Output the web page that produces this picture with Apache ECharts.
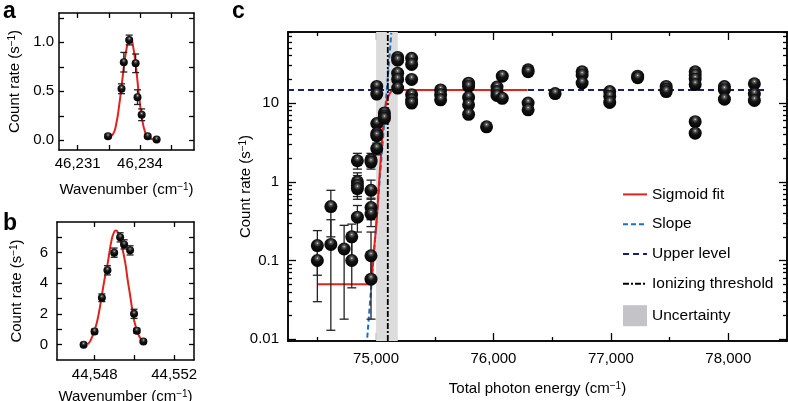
<!DOCTYPE html>
<html><head><meta charset="utf-8">
<script src="https://cdn.jsdelivr.net/npm/echarts@6/dist/echarts.min.js"></script>
<style>html,body{margin:0;padding:0;background:#fff}#c{width:788px;height:401px}</style>
</head><body><div id="c"></div>
<script>
const FONT = '"Liberation Sans", Arial, Helvetica, sans-serif';

// ---------- Panel a ----------
// [x, y, err]
const aPoints = [[46232.46,0.04,0.02],[46233.11,0.526,0.05],[46233.22,0.797,0.1],[46233.48,1.024,0.05],
  [46233.79,0.786,0.095],[46233.88,0.44,0.075],[46234.08,0.26,0.06],[46234.37,0.04,0.015],[46234.80,0.007,0.01]];
const aFit = [[46232.5,0.03],[46232.7,0.06],[46232.85,0.16],[46233.0,0.36],[46233.15,0.62],[46233.3,0.87],
  [46233.45,1.02],[46233.55,1.04],[46233.65,0.98],[46233.8,0.76],[46233.95,0.46],[46234.1,0.22],
  [46234.25,0.08],[46234.4,0.03],[46234.6,0.01],[46234.8,0.005]];
const aXTicks = [46231, 46232.5, 46234, 46235.5];
const aXLabels = [46231, 46234];
const aYTicks = [0, 0.25, 0.5, 0.75, 1, 1.25];
const aYLabels = [0, 0.5, 1];

// ---------- Panel b ----------
const bPoints = [[44547.44,0.0,0.1],[44547.99,0.86,0.15],[44548.36,3.06,0.25],[44548.64,4.85,0.3],
  [44548.98,6.0,0.3],[44549.28,7.0,0.3],[44549.48,6.54,0.3],[44549.78,6.15,0.3],[44549.98,2.01,0.3],
  [44550.12,0.91,0.15],[44550.45,0.21,0.1]];
const bFit = [[44547.64,0.02],[44547.8,0.3],[44548.03,1.08],[44548.2,2.0],[44548.36,3.24],[44548.5,4.3],
  [44548.64,5.2],[44548.86,6.9],[44549.0,7.4],[44549.08,7.45],[44549.2,7.2],[44549.35,6.5],[44549.53,5.4],
  [44549.65,4.3],[44549.78,3.24],[44549.9,2.2],[44550.0,1.5],[44550.15,0.85],[44550.29,0.43],[44550.45,0.2]];
const bXTicks = [44548, 44550, 44552];
const bXLabels = [44548, 44552];
const bYTicks = [0, 1, 2, 3, 4, 5, 6, 7];
const bYLabels = [0, 2, 4, 6];

// ---------- Panel c ----------
// [x, y, lo, hi] (lo/hi null = error hidden by marker)
const cPoints = [
 [74500,0.155,0.065,0.24],[74500,0.10,0.03,0.16],
 [74615,0.485,0.2,0.78],[74615,0.16,0.013,0.33],
 [74728,0.14,0.018,0.28],
 [74793,0.2,0.1,0.29],[74793,0.1,0.045,0.2],
 [74841,1.85,1.45,2.3],[74841,1.0,0.72,1.3],[74841,0.9,0.65,1.2],[74841,0.82,0.6,1.1],[74841,0.355,0.23,0.5],
 [74957,1.9,1.55,2.3],[74957,1.78,1.45,2.15],[74957,0.78,0.6,1.05],[74957,0.47,0.33,0.62],[74957,0.39,0.27,0.5],[74957,0.115,0.06,0.23],[74957,0.058,0.018,0.12],
 [75006,16.3,15,17.6],[75006,13,12,14],[75006,5.5,4.9,6.1],[75006,4.1,3.6,4.6],[75006,3.85,3.4,4.3],[75006,2.65,2.2,3.1],
 [75071,7.5,6.9,8.1],[75071,6.8,6.2,7.4],[75071,6.4,5.8,7.0],
 [75184,38,null,null],[75184,35,null,null],[75184,24,null,null],[75184,20,null,null],[75184,15.5,null,null],
 [75303,37,null,null],[75303,31,null,null],[75303,20,null,null],[75303,12.8,null,null],[75303,11,null,null],[75303,10,null,null],
 [75550,14.7,null,null],[75550,12.8,null,null],[75550,11,null,null],
 [75788,17.9,null,null],[75788,16.3,null,null],[75788,11.8,null,null],[75788,9.5,null,null],[75788,7.2,null,null],
 [75941,5.0,null,null],
 [76030,16,null,null],[76030,14,null,null],[76030,12.5,null,null],
 [76075,22,null,null],[76075,11.5,null,null],
 [76295,26.5,null,null],[76295,25,null,null],[76295,10,null,null],[76295,8.2,null,null],
 [76525,13.2,null,null],
 [76755,25,null,null],[76755,22.8,null,null],[76755,18,null,null],
 [76990,14,null,null],[76990,12.2,null,null],[76990,10.2,null,null],
 [77228,22,null,null],[77228,21,null,null],
 [77471,16.3,null,null],[77471,15,null,null],[77471,14,null,null],
 [77718,25,null,null],[77718,22.8,null,null],[77718,20.2,null,null],[77718,17.2,null,null],[77718,5.8,5.2,6.4],[77718,4.15,3.7,4.6],
 [77967,16.2,null,null],[77967,14.8,null,null],[77967,11.2,null,null],
 [78222,17.6,null,null],[78222,13,null,null],[78222,10.8,null,null]
];
const cSigmoid = [[74500,0.05],[74945,0.05],[74960,0.06],[74977,0.1],[74990,0.18],[75006,0.33],[75026,1.0],
  [75048,2.9],[75062,6],[75076,8.2],[75090,10.8],[75105,12.2],[75125,13.8],[75147,14.5],[75180,14.7],[76290,14.7]];
const cSlope = [[74925,0.0105],[75130,78]];
const cUpper = [[74250,14.7],[78310,14.7]];
const cThreshold = [[75100,0.0095],[75100,80]];
const cUncertainty = [[75000,75185,80,0.0095]];
const cXMajor = [75000, 76000, 77000, 78000];
const cXMinor = [74500, 75500, 76500, 77500];
const cYMajor = [0.01, 0.1, 1, 10];
const cYMinor = [0.02,0.03,0.04,0.05,0.06,0.07,0.08,0.09,0.2,0.3,0.4,0.5,0.6,0.7,0.8,0.9,
  2,3,4,5,6,7,8,9,20,30,40,50,60,70,80];

// ---------- helpers ----------
const sphere = {type:'radial', x:0.5, y:0.32, r:0.68, colorStops:[
  {offset:0,color:'#e8e8e8'},{offset:0.12,color:'#666'},{offset:0.4,color:'#151515'},{offset:1,color:'#000'}]};
const lbl = {color:'#000', fontSize:15, fontFamily:FONT};
const nameStyle = {color:'#000', fontSize:15, fontFamily:FONT,
  rich:{sup:{fontSize:10, fontFamily:FONT, color:'#000', verticalAlign:'top', lineHeight:10}}};

function ax(o) {
  const base = {
    axisLine:{show:true, onZero:false, lineStyle:{color:'#000', width:1.5}},
    splitLine:{show:false},
    axisTick:{show:true, inside:true, length:5, lineStyle:{color:'#000', width:1.3}},
    axisLabel:{show:false},
    nameMoveOverlap:false
  };
  const r = Object.assign({}, base, o);
  r.axisTick = Object.assign({}, base.axisTick, o.axisTick || {});
  r.axisLabel = Object.assign({}, base.axisLabel, o.axisLabel || {});
  return r;
}

function errRender(params, api) {
  const x = api.value(0), lo = api.value(1), hi = api.value(2);
  const p1 = api.coord([x, lo]), p2 = api.coord([x, hi]);
  const w = params.seriesName === 'errc' ? 4.5 : 3.5;
  const st = {stroke:'#222', lineWidth:1.3};
  return {type:'group', children:[
    {type:'line', shape:{x1:p1[0], y1:p1[1], x2:p2[0], y2:p2[1]}, style:st},
    {type:'line', shape:{x1:p1[0]-w, y1:p1[1], x2:p1[0]+w, y2:p1[1]}, style:st},
    {type:'line', shape:{x1:p2[0]-w, y1:p2[1], x2:p2[0]+w, y2:p2[1]}, style:st}
  ]};
}

const aErr = aPoints.map(p => [p[0], p[1]-p[2], p[1]+p[2]]);
const bErr = bPoints.map(p => [p[0], p[1]-p[2], p[1]+p[2]]);
const cErr = cPoints.filter(p => p[2] !== null).map(p => [p[0], p[2], p[3]]);

const A = {xmin:46230.1, xmax:46236.6, ymin:-0.1, ymax:1.3};
const B = {xmin:44546.1, xmax:44553.0, ymin:-1, ymax:8};
const C = {xmin:74250, xmax:78500, ymin:0.0095, ymax:80};

const hideSym = {opacity:0};
const chart = echarts.init(document.getElementById('c'), null, {renderer:'canvas'});
chart.setOption({
  animation:false,
  backgroundColor:'#fff',
  graphic:[
    {type:'text', left:3, top:0, style:{text:'a', font:'bold 23px '+FONT, fill:'#000'}},
    {type:'text', left:3, top:212, style:{text:'b', font:'bold 23px '+FONT, fill:'#000'}},
    {type:'text', left:232, top:0, style:{text:'c', font:'bold 23px '+FONT, fill:'#000'}}
  ],
  grid:[
    {left:59, top:13, width:135, height:137, outerBoundsMode:'none'},
    {left:57, top:222, width:137, height:138, outerBoundsMode:'none'},
    {left:288, top:32, width:499, height:309, outerBoundsMode:'none'}
  ],
  legend:{
    orient:'vertical', left:617, top:181, itemWidth:24, itemHeight:21, itemGap:13,
    textStyle:{color:'#000', fontSize:15.5, fontFamily:FONT},
    data:[{name:'Sigmoid fit', itemStyle:hideSym},{name:'Slope', itemStyle:hideSym},
      {name:'Upper level', itemStyle:hideSym},{name:'Ionizing threshold', itemStyle:hideSym},
      {name:'Uncertainty', icon:'rect', itemStyle:{color:'#c4c4c8', opacity:1}}]
  },
  xAxis:[
    ax({type:'value', gridIndex:0, position:'bottom', min:A.xmin, max:A.xmax,
      axisTick:{customValues:aXTicks}, axisLabel:{show:true, customValues:aXLabels, margin:6, ...lbl},
      name:'Wavenumber (cm{sup|−1})', nameLocation:'middle', nameGap:32, nameTextStyle:nameStyle}),
    ax({type:'value', gridIndex:0, position:'top', min:A.xmin, max:A.xmax, axisTick:{customValues:aXTicks}}),
    ax({type:'value', gridIndex:1, position:'bottom', min:B.xmin, max:B.xmax,
      axisTick:{customValues:bXTicks}, axisLabel:{show:true, customValues:bXLabels, margin:7, ...lbl},
      name:'Wavenumber (cm{sup|−1})', nameLocation:'middle', nameGap:29, nameTextStyle:nameStyle}),
    ax({type:'value', gridIndex:1, position:'top', min:B.xmin, max:B.xmax, axisTick:{customValues:bXTicks}}),
    ax({type:'value', gridIndex:2, position:'bottom', min:C.xmin, max:C.xmax,
      axisTick:{customValues:cXMajor, length:8}, axisLabel:{show:true, customValues:cXMajor, margin:10, ...lbl},
      name:'Total photon energy (cm{sup|−1})', nameLocation:'middle', nameGap:40, nameTextStyle:nameStyle}),
    ax({type:'value', gridIndex:2, position:'bottom', min:C.xmin, max:C.xmax, axisTick:{customValues:cXMinor, length:4}}),
    ax({type:'value', gridIndex:2, position:'top', min:C.xmin, max:C.xmax, axisTick:{customValues:cXMajor, length:8}}),
    ax({type:'value', gridIndex:2, position:'top', min:C.xmin, max:C.xmax, axisTick:{customValues:cXMinor, length:4}})
  ],
  yAxis:[
    ax({type:'value', gridIndex:0, position:'left', min:A.ymin, max:A.ymax,
      axisTick:{customValues:aYTicks}, axisLabel:{show:true, customValues:aYLabels, margin:5, formatter:v=>v.toFixed(1), ...lbl},
      name:'Count rate (s{sup|−1})', nameLocation:'middle', nameGap:37, nameTextStyle:nameStyle}),
    ax({type:'value', gridIndex:0, position:'right', min:A.ymin, max:A.ymax, axisTick:{customValues:aYTicks}}),
    ax({type:'value', gridIndex:1, position:'left', min:B.ymin, max:B.ymax,
      axisTick:{customValues:bYTicks}, axisLabel:{show:true, customValues:bYLabels, margin:9, ...lbl},
      name:'Count rate (s{sup|−1})', nameLocation:'middle', nameGap:33, nameTextStyle:nameStyle}),
    ax({type:'value', gridIndex:1, position:'right', min:B.ymin, max:B.ymax, axisTick:{customValues:bYTicks}}),
    ax({type:'log', gridIndex:2, position:'left', min:C.ymin, max:C.ymax,
      axisTick:{customValues:cYMajor, length:8}, axisLabel:{show:true, customValues:cYMajor, margin:9, ...lbl},
      name:'Count rate (s{sup|−1})', nameLocation:'middle', nameGap:35, nameTextStyle:nameStyle}),
    ax({type:'log', gridIndex:2, position:'left', min:C.ymin, max:C.ymax, axisTick:{customValues:cYMinor, length:4}}),
    ax({type:'log', gridIndex:2, position:'right', min:C.ymin, max:C.ymax, axisTick:{customValues:cYMajor, length:8}}),
    ax({type:'log', gridIndex:2, position:'right', min:C.ymin, max:C.ymax, axisTick:{customValues:cYMinor, length:4}})
  ],
  series:[
    // panel a
    {type:'line', xAxisIndex:0, yAxisIndex:0, data:aFit, smooth:true, symbol:'none',
      lineStyle:{color:'#e0231c', width:2}, z:2},
    {type:'custom', name:'erra', xAxisIndex:0, yAxisIndex:0, data:aErr, renderItem:errRender, encode:{x:0, y:[1,2]}, z:3},
    {type:'scatter', xAxisIndex:0, yAxisIndex:0, data:aPoints.map(p=>[p[0],p[1]]), symbolSize:8,
      itemStyle:{color:sphere, opacity:1}, z:4},
    // panel b
    {type:'line', xAxisIndex:2, yAxisIndex:2, data:bFit, smooth:true, symbol:'none',
      lineStyle:{color:'#e0231c', width:2}, z:2},
    {type:'custom', name:'errb', xAxisIndex:2, yAxisIndex:2, data:bErr, renderItem:errRender, encode:{x:0, y:[1,2]}, z:3},
    {type:'scatter', xAxisIndex:2, yAxisIndex:2, data:bPoints.map(p=>[p[0],p[1]]), symbolSize:8,
      itemStyle:{color:sphere, opacity:1}, z:4},
    // panel c
    {type:'custom', name:'Uncertainty', xAxisIndex:4, yAxisIndex:4, data:cUncertainty, encode:{x:[0,1], y:[2,3]},
      itemStyle:{color:'#c4c4c8'}, z:1,
      renderItem:(params, api) => {
        const p0 = api.coord([api.value(0), api.value(2)]);
        const p1 = api.coord([api.value(1), api.value(3)]);
        return {type:'rect', shape:{x:p0[0], y:p0[1], width:p1[0]-p0[0], height:p1[1]-p0[1]}, style:{fill:'#dcdcdc'}};
      }},
    {type:'line', name:'Upper level', xAxisIndex:4, yAxisIndex:4, data:cUpper, symbol:'none',
      lineStyle:{color:'#16206b', width:2, type:[6,4]}, itemStyle:{color:'#16206b'}, z:2},
    {type:'line', name:'Slope', xAxisIndex:4, yAxisIndex:4, data:cSlope, symbol:'none',
      lineStyle:{color:'#1f6fc8', width:2, type:[5,3]}, itemStyle:{color:'#1f6fc8'}, z:2},
    {type:'line', name:'Sigmoid fit', xAxisIndex:4, yAxisIndex:4, data:cSigmoid, symbol:'none', smooth:0.3,
      lineStyle:{color:'#e0231c', width:2}, itemStyle:{color:'#e0231c'}, z:3},
    {type:'line', name:'Ionizing threshold', xAxisIndex:4, yAxisIndex:4, data:cThreshold, symbol:'none',
      lineStyle:{color:'#000', width:1.8, type:[6,2,2,2]}, itemStyle:{color:'#000'}, z:3},
    {type:'custom', name:'errc', xAxisIndex:4, yAxisIndex:4, data:cErr, renderItem:errRender, encode:{x:0, y:[1,2]}, z:4},
    {type:'scatter', name:'pts', xAxisIndex:4, yAxisIndex:4, data:cPoints.map(p=>[p[0],p[1]]), symbolSize:13,
      itemStyle:{color:sphere, opacity:1}, z:5}
  ]
});
</script></body></html>
